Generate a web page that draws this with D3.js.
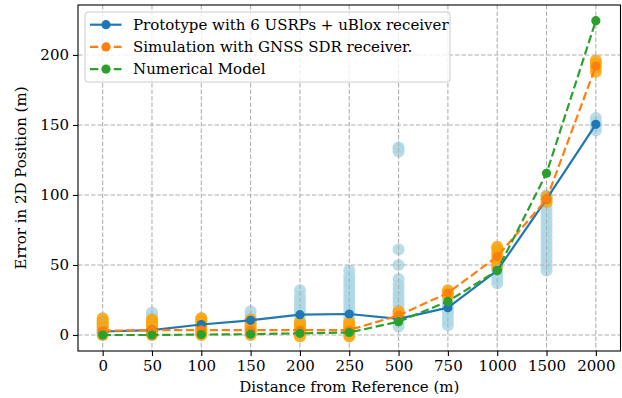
<!DOCTYPE html>
<html>
<head>
<meta charset="utf-8">
<script src="https://cdn.jsdelivr.net/npm/d3@7"></script>
<style>
  html, body { margin: 0; padding: 0; background: #fff; }
  svg { display: block; }
  text { font-family: "DejaVu Serif", serif; fill: #000; }
</style>
</head>
<body>
<svg id="chart" width="622" height="398"></svg>
<script>
// Distance categories (m)
const distances = ["0", "50", "100", "150", "200", "250", "500", "750", "1000", "1500", "2000"];

// Mean 2D position error (m) for each series
const prototypeMean  = [2.5, 3.5, 7.5, 10.5, 14.5, 15, 11.5, 19.5, 46, 97, 150.5];
const simulationMean = [3, 3.5, 3.5, 3.5, 3.5, 3.5, 14, 30, 56, 97, 192];
const modelMean      = [0, 0, 0.3, 0.6, 1.2, 1.8, 9.5, 24, 46, 115.5, 224.5];

// Individual runs: prototype (USRP + uBlox)
const prototypeRuns = [
  [0, 2, 4, 6, 8, 10],
  [0, 2, 4, 6, 8, 11, 14, 16],
  [1, 4, 7, 10, 12],
  [2, 5, 8, 11, 14, 17],
  [1, 4, 7, 10, 13, 16, 19, 22, 25, 28, 32],
  [0, 3, 6, 9, 12, 15, 18, 21, 24, 27, 30, 33, 36, 39, 42, 46],
  [6, 9, 12, 15, 18, 21, 24, 27, 30, 33, 36, 40, 50, 61, 131, 133, 134],
  [7, 10, 13, 16, 19, 22, 25],
  [37, 40, 43, 46, 49, 52],
  [46, 49, 52, 55, 58, 61, 64, 67, 70, 73, 76, 79, 82, 85, 88, 91, 94, 97, 100],
  [146, 149, 152, 155]
];

// Individual runs: GNSS SDR simulation
const simulationRuns = [
  [0, 2, 4, 6, 8, 10, 12],
  [0, 2, 4, 6, 8, 10, 11],
  [0, 2, 4, 6, 8, 10, 12],
  [0, 2, 4, 6, 8, 10, 11],
  [-1, 1, 3, 5, 7, 9],
  [-1, 1, 3, 5, 7, 9],
  [13, 15, 17],
  [28, 30, 32],
  [49, 52, 55, 58, 61, 63],
  [95, 97, 99],
  [188, 191, 194, 196]
];

const yTicks = [0, 50, 100, 150, 200];

const legendLabels = [
  "Prototype with 6 USRPs + uBlox receiver",
  "Simulation with GNSS SDR receiver.",
  "Numerical Model"
];

const colors = { blue: "#1f77b4", orange: "#ff7f0e", green: "#2ca02c" };

const svg = d3.select("#chart");
const plot = { left: 78, right: 620.5, top: 5, bottom: 351 };

const x = d3.scaleLinear().domain([-0.5, distances.length - 0.5]).range([plot.left, plot.right]);
const y = d3.scaleLinear().domain([-11.43, 235.7]).range([plot.bottom, plot.top]);

const clip = svg.append("defs").append("clipPath").attr("id", "plotClip")
  .append("rect")
  .attr("x", plot.left).attr("y", plot.top)
  .attr("width", plot.right - plot.left).attr("height", plot.bottom - plot.top);

const g = svg.append("g").attr("clip-path", "url(#plotClip)");

// Scatter of individual runs
const scatterLayer = g.append("g");
function drawRuns(runs, color, opacity) {
  runs.forEach((vals, i) => {
    scatterLayer.selectAll(null)
      .data(vals)
      .enter().append("circle")
      .attr("cx", x(i))
      .attr("cy", d => y(d))
      .attr("r", 6)
      .attr("fill", color)
      .attr("fill-opacity", opacity);
  });
}
drawRuns(prototypeRuns, "#add8e6", 0.85);
drawRuns(simulationRuns, "#ffa500", 0.85);

// Grid
const grid = g.append("g");
grid.selectAll(".gx").data(distances).enter().append("line")
  .attr("x1", (d, i) => x(i)).attr("x2", (d, i) => x(i))
  .attr("y1", plot.top).attr("y2", plot.bottom)
  .attr("stroke", "#b0b0b0").attr("stroke-width", 1.1)
  .attr("stroke-dasharray", "4.5,2");
grid.selectAll(".gy").data(yTicks).enter().append("line")
  .attr("x1", plot.left).attr("x2", plot.right)
  .attr("y1", d => y(d)).attr("y2", d => y(d))
  .attr("stroke", "#b0b0b0").attr("stroke-width", 1.1)
  .attr("stroke-dasharray", "4.5,2");

// Mean lines with markers
const line = d3.line().x((d, i) => x(i)).y(d => y(d));
const series = [
  { vals: prototypeMean, color: colors.blue, dash: null },
  { vals: simulationMean, color: colors.orange, dash: "8.3,3.6" },
  { vals: modelMean, color: colors.green, dash: "8.3,3.6" }
];
series.forEach(s => {
  g.append("path")
    .datum(s.vals)
    .attr("d", line)
    .attr("fill", "none")
    .attr("stroke", s.color)
    .attr("stroke-width", 2.2)
    .attr("stroke-dasharray", s.dash);
  g.selectAll(null).data(s.vals).enter().append("circle")
    .attr("cx", (d, i) => x(i))
    .attr("cy", d => y(d))
    .attr("r", 4.6)
    .attr("fill", s.color);
});

// Axes
const xAxis = d3.axisBottom(x)
  .tickValues(d3.range(distances.length))
  .tickFormat(i => distances[i])
  .tickSize(5).tickPadding(4);
const yAxis = d3.axisLeft(y)
  .tickValues(yTicks)
  .tickSize(5).tickPadding(4);

const gx = svg.append("g").attr("transform", `translate(0,${plot.bottom})`).call(xAxis);
const gy = svg.append("g").attr("transform", `translate(${plot.left},0)`).call(yAxis);
[gx, gy].forEach(a => {
  a.select(".domain").remove();
  a.selectAll(".tick line").attr("stroke", "#000").attr("stroke-width", 1.1);
  a.selectAll(".tick text").attr("font-family", "DejaVu Serif").attr("font-size", 15).attr("fill", "#000");
});

// Frame
svg.append("rect")
  .attr("x", plot.left).attr("y", plot.top)
  .attr("width", plot.right - plot.left).attr("height", plot.bottom - plot.top)
  .attr("fill", "none").attr("stroke", "#000").attr("stroke-width", 1.1);

// Axis titles
svg.append("text")
  .attr("x", (plot.left + plot.right) / 2).attr("y", 392)
  .attr("text-anchor", "middle").attr("font-size", 15)
  .text("Distance from Reference (m)");
svg.append("text")
  .attr("transform", `translate(26,${(plot.top + plot.bottom) / 2}) rotate(-90)`)
  .attr("text-anchor", "middle").attr("font-size", 15)
  .text("Error in 2D Position (m)");

// Legend
const legend = svg.append("g");
legend.append("rect")
  .attr("x", 85).attr("y", 12).attr("width", 365).attr("height", 70)
  .attr("rx", 3).attr("fill", "#fff").attr("fill-opacity", 0.8)
  .attr("stroke", "#cccccc").attr("stroke-width", 1);
series.forEach((s, i) => {
  const ly = 24.7 + i * 22.2;
  legend.append("line")
    .attr("x1", 90).attr("x2", 121.5).attr("y1", ly).attr("y2", ly)
    .attr("stroke", s.color).attr("stroke-width", 2.2)
    .attr("stroke-dasharray", s.dash);
  legend.append("circle").attr("cx", 106).attr("cy", ly).attr("r", 4.6).attr("fill", s.color);
  legend.append("text")
    .attr("x", 133).attr("y", ly).attr("dy", "0.35em")
    .attr("font-size", 15)
    .text(legendLabels[i]);
});
</script>
</body>
</html>
